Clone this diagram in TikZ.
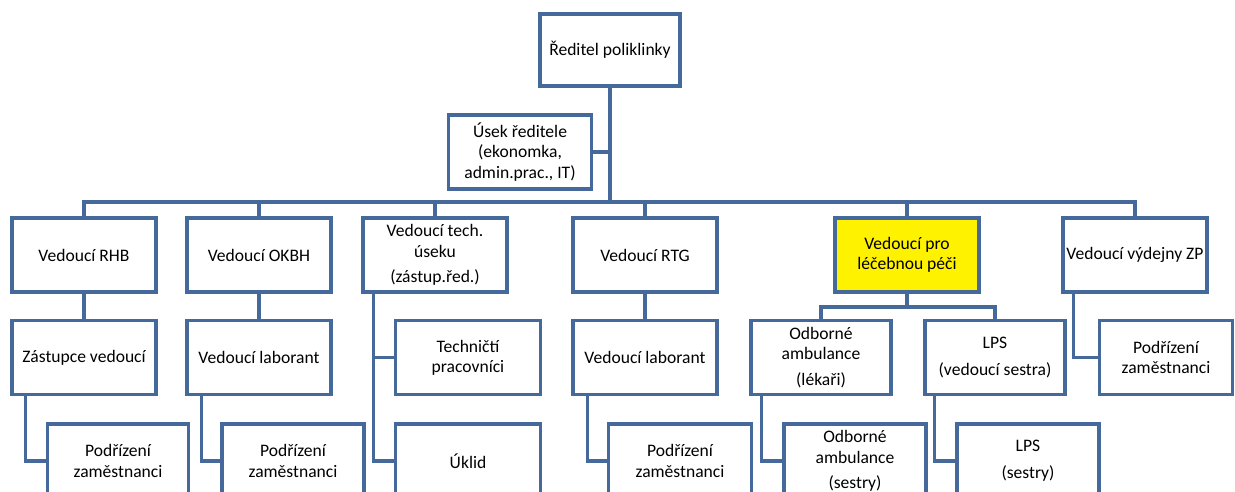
\documentclass[tikz,border=0pt]{standalone}
\usepackage{fontspec}
\setmainfont{Carlito}
\usepackage{tikz}
\definecolor{orgline}{RGB}{70,105,155}

\begin{document}
\begin{tikzpicture}[x=0.02cm,y=-0.02cm]
\tikzset{unit/.style = {shape=rectangle,draw=orgline,line width=1.9pt,fill=white,minimum width=2.88cm,minimum height=1.48cm,align=center,inner sep=1pt,font=\fontsize{10}{11.5}\selectfont}}
\tikzset{edge/.style = {draw=orgline,line width=1.9pt}}
\path[use as bounding box,clip] (0,0) rectangle (1235,492);
% vertices
\node[unit,minimum width=2.8cm,minimum height=1.44cm] (dir) at (610,50) {Ředitel poliklinky};
\node[unit,minimum width=2.86cm] (usek) at (520,152) {Úsek ředitele\\(ekonomka,\\admin.prac., IT)};
\node[unit] (rhb)  at (84,255)  {Vedoucí RHB};
\node[unit] (okbh) at (259,255) {Vedoucí OKBH};
\node[unit] (tech) at (435,255) {Vedoucí tech.\\úseku\\[3pt](zástup.řed.)};
\node[unit] (rtg)  at (645,255) {Vedoucí RTG};
\node[unit,fill=yellow] (lpp) at (907,255) {Vedoucí pro\\léčebnou péči};
\node[unit] (zp)   at (1135,255) {Vedoucí výdejny ZP};
\node[unit] (zast)  at (84,357.5)  {Zástupce vedoucí};
\node[unit] (lab1)  at (259,357.5) {Vedoucí laborant};
\node[unit,minimum width=2.9cm] (techp) at (468,357.5) {Techničtí\\pracovníci};
\node[unit] (lab2)  at (645,357.5) {Vedoucí laborant};
\node[unit,minimum width=2.8cm] (odb) at (821,357.5) {Odborné\\ambulance\\[3pt](lékaři)};
\node[unit,minimum width=2.8cm] (lps) at (995,357.5) {LPS\\[4pt](vedoucí sestra)};
\node[unit,minimum width=2.66cm] (podr4) at (1166,357.5) {Podřízení\\zaměstnanci};
\node[unit,minimum width=2.82cm] (podr1) at (118,461) {Podřízení\\zaměstnanci};
\node[unit,minimum width=2.84cm] (podr2) at (293,461) {Podřízení\\zaměstnanci};
\node[unit,minimum width=2.9cm] (uklid) at (468,461) {Úklid};
\node[unit,minimum width=2.86cm] (podr3) at (680,461) {Podřízení\\zaměstnanci};
\node[unit,minimum width=2.84cm] (odbs) at (855,461) {Odborné\\ambulance\\[3pt](sestry)};
\node[unit,minimum width=2.84cm] (lpss) at (1028,461) {LPS\\[4pt](sestry)};
\coordinate (bus) at (610,202);
\coordinate (lbus) at (907,307);
%edges
\draw[edge] (dir.south) -- (bus);
\draw[edge] (usek.east) -- (usek.east -| bus);
\draw[edge] (rhb.north) |- (bus) -| (zp.north);
\foreach \n in {okbh,tech,rtg,lpp}
  \draw[edge] (\n.north) -- (\n.north |- bus);
\draw[edge] (rhb) -- (zast);
\draw[edge] (okbh) -- (lab1);
\draw[edge] (rtg) -- (lab2);
\draw[edge] (lpp.south) -- (lbus);
\draw[edge] (odb.north) |- (lbus) -| (lps.north);
\draw[edge] ([xshift=0.3cm]zast.south west) |- (podr1.west);
\draw[edge] ([xshift=0.32cm]lab1.south west) |- (podr2.west);
\draw[edge] ([xshift=0.24cm]tech.south west) |- (uklid.west);
\draw[edge] ([xshift=0.24cm]tech.south west |- techp.west) -- (techp.west);
\draw[edge] ([xshift=0.32cm]lab2.south west) |- (podr3.west);
\draw[edge] ([xshift=0.24cm]odb.south west) |- (odbs.west);
\draw[edge] ([xshift=0.22cm]lps.south west) |- (lpss.west);
\draw[edge] ([xshift=0.24cm]zp.south west) |- (podr4.west);
\end{tikzpicture}
\end{document}
